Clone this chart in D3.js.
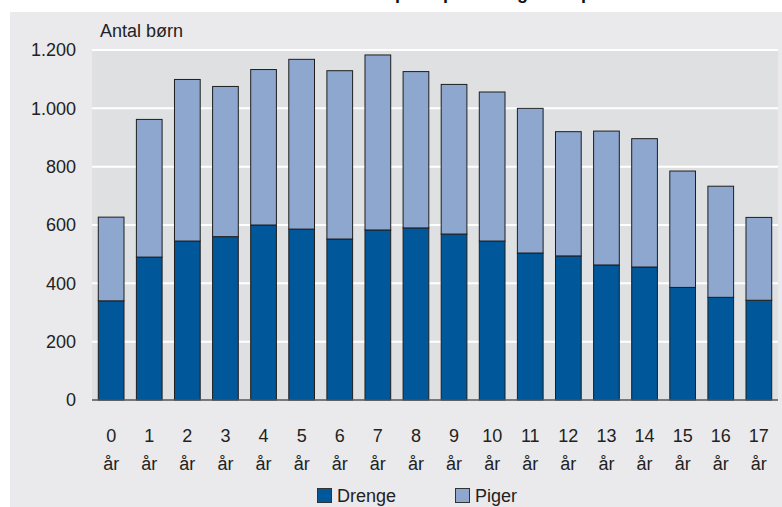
<!DOCTYPE html>
<html><head><meta charset="utf-8">
<script src="https://cdn.jsdelivr.net/npm/d3@7"></script>
<style>
html,body{margin:0;padding:0;background:#fff;}
svg text{font-family:"Liberation Sans",Arial,sans-serif;}
</style></head>
<body>
<svg id="chart" width="782" height="507"></svg>
<script>
const categories = ["0","1","2","3","4","5","6","7","8","9","10","11","12","13","14","15","16","17"];
const drenge = [340,490,545,560,600,586,552,583,590,569,545,504,494,463,456,386,352,342];
const total  = [627,962,1099,1075,1133,1168,1129,1183,1126,1082,1056,1000,920,922,896,785,733,626];
const piger = total.map((t,i)=>t-drenge[i]);
const yTicks = [0,200,400,600,800,1000,1200];
const seriesNames = ["Drenge","Piger"];
const colors = {"Drenge":"#00579a","Piger":"#8da7cf"};

const svg = d3.select("#chart");
const L=92,R=778,T=50,B=400;

// panel
svg.append("rect").attr("x",10).attr("y",12).attr("width",772).attr("height",495).attr("fill","#eaeaec");
// cut-off title
const title = svg.append("text").attr("y",-1).attr("font-weight","bold").attr("font-size",18).attr("fill","#111")
  .text("Antal børn i alt opdelt på køn og alder pr. 31. december 2011");
const idx = title.text().indexOf("pdelt");
const px = title.node().getStartPositionOfChar(idx).x;
title.attr("x", 395 - px);

svg.append("rect").attr("x",L).attr("y",T).attr("width",R-L).attr("height",B-T).attr("fill","#dfe0e2");

const x = d3.scaleBand().domain(categories).range([L,R]).paddingInner(0.325).paddingOuter(0.165);
const y = d3.scaleLinear().domain([0,1200]).range([B,T]);

// gridlines
svg.append("g").selectAll("line").data(yTicks.filter(d=>d>0)).join("line")
  .attr("x1",L).attr("x2",R).attr("y1",d=>y(d)).attr("y2",d=>y(d))
  .attr("stroke","#fff").attr("stroke-width",2);

// y axis labels
const yAxis = d3.axisLeft(y).tickValues(yTicks).tickSize(0).tickPadding(0)
  .tickFormat(d=>d3.format(",")(d).replace(/,/g,"."));
const ya = svg.append("g").attr("transform",`translate(76,0)`).call(yAxis);
ya.select(".domain").remove();
ya.selectAll("text").attr("font-size",18).attr("fill","#222").attr("font-family","Liberation Sans, Arial, sans-serif");

// stacked data
const rows = categories.map((c,i)=>({cat:c,Drenge:drenge[i],Piger:piger[i]}));
const stack = d3.stack().keys(seriesNames)(rows);
svg.append("g").selectAll("g").data(stack).join("g")
  .attr("fill",d=>colors[d.key])
  .selectAll("rect").data(d=>d).join("rect")
  .attr("x",d=>x(d.data.cat)).attr("width",x.bandwidth())
  .attr("y",d=>y(d[1])).attr("height",d=>y(d[0])-y(d[1]))
  .attr("stroke","#1e1e1e").attr("stroke-width",1);

// zero line
svg.append("line").attr("x1",L).attr("x2",R).attr("y1",B).attr("y2",B).attr("stroke","#555").attr("stroke-width",1.5);

// x labels
const xl = svg.append("g");
categories.forEach(c=>{
  const cx = x(c)+x.bandwidth()/2;
  xl.append("text").attr("x",cx).attr("y",442).attr("text-anchor","middle").attr("font-size",18).attr("fill","#222").text(c);
  xl.append("text").attr("x",cx).attr("y",470).attr("text-anchor","middle").attr("font-size",18).attr("fill","#222").text("år");
});

// y title
svg.append("text").attr("x",100).attr("y",37).attr("font-size",18).attr("fill","#222").text("Antal børn");

// legend
const legX = [317,455];
seriesNames.forEach((s,i)=>{
  svg.append("rect").attr("x",legX[i]+0.5).attr("y",488.5).attr("width",14).attr("height",14)
    .attr("fill",colors[s]).attr("stroke","#333").attr("stroke-width",1);
  svg.append("text").attr("x",legX[i]+20).attr("y",502).attr("font-size",18).attr("fill","#222").text(s);
});
</script>
</body></html>
